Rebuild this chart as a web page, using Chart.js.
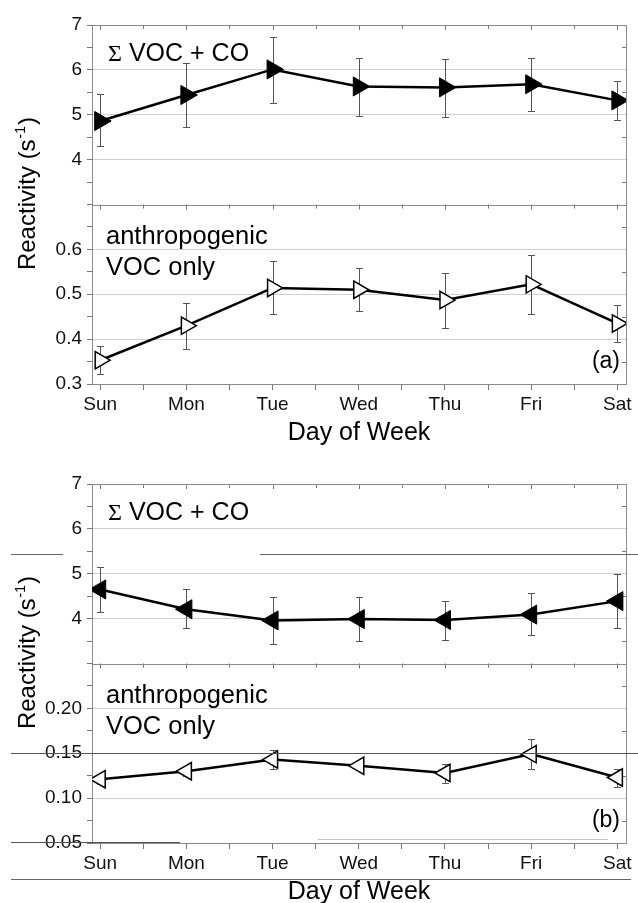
<!DOCTYPE html>
<html><head><meta charset="utf-8">
<script src="https://cdn.jsdelivr.net/npm/chart.js@4.4.0/dist/chart.umd.min.js"></script>
<style>
html,body{margin:0;padding:0;background:#fff;width:638px;height:903px;overflow:hidden;position:relative}
.wrap{position:absolute;left:0;width:638px;height:450px}
canvas{display:block}
</style></head><body>
<div class="wrap" style="top:0"><canvas id="ca" width="638" height="450"></canvas></div>
<div class="wrap" style="top:459px"><canvas id="cb" width="638" height="450"></canvas></div>
<script>
// ---------- data ----------
const DAYS = ['Sun','Mon','Tue','Wed','Thu','Fri','Sat'];
const X_POS = [0,1,2,3,4,5,6];
const X_TICKS = [0,0.5,1,1.5,2,2.5,3,3.5,4,4.5,5,5.5,6];

// panel (a)
const A_TOTAL    = [4.86,5.44,6.01,5.63,5.61,5.68,5.32];
const A_TOTAL_HI = [5.47,6.16,6.74,6.27,6.25,6.27,5.76];
const A_TOTAL_LO = [4.30,4.73,5.26,4.98,4.96,5.09,4.89];
const A_ANTH     = [0.353,0.430,0.514,0.510,0.487,0.522,0.435];
const A_ANTH_HI  = [0.384,0.481,0.573,0.558,0.547,0.588,0.477];
const A_ANTH_LO  = [0.322,0.379,0.455,0.462,0.425,0.455,0.394];

// panel (b)
const B_TOTAL    = [4.65,4.21,3.96,3.99,3.97,4.09,4.39];
const B_TOTAL_HI = [5.15,4.65,4.48,4.48,4.39,4.57,5.00];
const B_TOTAL_LO = [4.15,3.80,3.43,3.50,3.53,3.63,3.80];
const B_ANTH     = [0.121,0.130,0.143,0.136,0.128,0.149,0.123];
const B_ANTH_HI  = [0.126,0.135,0.154,0.141,0.138,0.166,0.133];
const B_ANTH_LO  = [0.116,0.125,0.133,0.131,0.117,0.132,0.112];

// tick values
const UP_TICKS    = [3,3.5,4,4.5,5,5.5,6,6.5,7];
const A_LOW_TICKS = [0.3,0.35,0.4,0.45,0.5,0.55,0.6,0.65,0.7];
const B_LOW_TICKS = [0.05,0.075,0.1,0.125,0.15,0.175,0.2,0.225,0.25];

const FONT = "'Liberation Sans', Arial, sans-serif";

function isMult(v, step){ const r = v/step; return Math.abs(r - Math.round(r)) < 1e-6; }

const deco = {
  id: 'deco',
  beforeDatasetsDraw(chart, args, o) {
    const ctx = chart.ctx, xs = chart.scales.x;
    const {left, right} = chart.chartArea;
    const yU = chart.scales.yU, yL = chart.scales.yL;
    ctx.save();
    ctx.lineWidth = 1;
    ctx.strokeStyle = '#777';
    [yU, yL].forEach(s => {
      X_TICKS.forEach(v => {
        const px = Math.round(xs.getPixelForValue(v)) + 0.5;
        const len = Number.isInteger(v) ? 5 : 4;
        ctx.beginPath(); ctx.moveTo(px, s.top); ctx.lineTo(px, s.top + len); ctx.stroke();
      });
      s.ticks.forEach(t => {
        if (!isMult(t.value, o.steps[s.id])) {
          const py = Math.round(s.getPixelForValue(t.value)) + 0.5;
          ctx.beginPath(); ctx.moveTo(right, py); ctx.lineTo(right - 4, py); ctx.stroke();
        }
      });
    });
    ctx.strokeStyle = '#8a8a8a';
    ctx.strokeRect(Math.round(left) + 0.5, Math.round(yU.top) + 0.5, Math.round(right - left), Math.round(yL.bottom - yU.top));
    ctx.beginPath();
    const by = Math.round(yU.bottom) + 0.5;
    ctx.moveTo(left, by); ctx.lineTo(right, by); ctx.stroke();
    ctx.strokeStyle = '#555';
    o.errors.forEach(e => {
      const ys = chart.scales[e.axis];
      e.hi.forEach((h, i) => {
        const px = Math.round(xs.getPixelForValue(X_POS[i])) + 0.5;
        const y1 = Math.round(ys.getPixelForValue(h)) + 0.5;
        const y2 = Math.round(ys.getPixelForValue(e.lo[i])) + 0.5;
        ctx.beginPath();
        ctx.moveTo(px, y1); ctx.lineTo(px, y2);
        ctx.moveTo(px - 3.5, y1); ctx.lineTo(px + 3.5, y1);
        ctx.moveTo(px - 3.5, y2); ctx.lineTo(px + 3.5, y2);
        ctx.stroke();
      });
    });
    ctx.restore();
  },
  afterDraw(chart, args, o) {
    const ctx = chart.ctx;
    const {left, right, bottom} = chart.chartArea;
    const yU = chart.scales.yU, yL = chart.scales.yL;
    ctx.save();
    ctx.fillStyle = '#000';
    ctx.textBaseline = 'alphabetic';
    ctx.font = "24px 'Liberation Serif', serif";
    ctx.textAlign = 'left';
    const sx = left + 16, sy = yU.top + 36;
    ctx.fillText('Σ', sx, sy);
    const sw = ctx.measureText('Σ').width;
    ctx.font = '25px ' + FONT;
    ctx.fillText(' VOC + CO', sx + sw, sy);
    ctx.font = '25.5px ' + FONT;
    ctx.fillText('anthropogenic', left + 14, yL.top + 39);
    ctx.fillText('VOC only', left + 14, yL.top + 70);
    ctx.font = '23px ' + FONT;
    ctx.textAlign = 'right';
    ctx.fillText(o.label, right - 6, bottom - 16);
    ctx.font = '25px ' + FONT;
    ctx.textAlign = 'center';
    ctx.fillText('Day of Week', (left + right) / 2, bottom + 56);
    // y title (rotated) with superscript
    ctx.translate(35, yU.bottom - 11);
    ctx.rotate(-Math.PI / 2);
    ctx.font = '24px ' + FONT;
    const p1 = 'Reactivity (s', p3 = ')';
    const w1 = ctx.measureText(p1).width, w3 = ctx.measureText(p3).width;
    ctx.font = '14px ' + FONT;
    const w2 = ctx.measureText('-1').width;
    const tot = w1 + w2 + w3 + 2;
    ctx.textAlign = 'left';
    ctx.font = '24px ' + FONT;
    ctx.fillText(p1, -tot / 2, 0);
    ctx.font = '14px ' + FONT;
    ctx.fillText('-1', -tot / 2 + w1 + 1, -10);
    ctx.font = '24px ' + FONT;
    ctx.fillText(p3, -tot / 2 + w1 + w2 + 2, 0);
    ctx.restore();
    if (o.artefacts) {
      ctx.save();
      ctx.lineWidth = 1;
      o.artefacts.forEach(a => {
        ctx.strokeStyle = a[3];
        ctx.beginPath(); ctx.moveTo(a[0], a[2] + 0.5); ctx.lineTo(a[1], a[2] + 0.5); ctx.stroke();
      });
      ctx.restore();
    }
  }
};

function yScale(ticks, step, lo, hi, fmt, labelMin, labelMax) {
  return {
    type: 'linear', position: 'left', stack: 'p', stackWeight: 1,
    min: lo, max: hi,
    afterBuildTicks: s => { s.ticks = ticks.map(v => ({value: v})); },
    afterFit: s => { s.width = 92; },
    ticks: {
      autoSkip: false, padding: 5, color: '#111',
      font: {family: FONT, size: 19},
      callback: v => (isMult(v, step) && v > labelMin - 1e-9 && v < labelMax + 1e-9) ? fmt(v) : ''
    },
    grid: {
      color: c => (c.tick && isMult(c.tick.value, step) && Math.abs(c.tick.value - lo) > 1e-6 && Math.abs(c.tick.value - hi) > 1e-6) ? '#cfcfcf' : 'rgba(0,0,0,0)',
      tickColor: '#777', tickLength: 5, drawTicks: true, lineWidth: 1
    },
    border: {display: false}
  };
}

function makeChart(id, p) {
  const upper = X_POS.map((x, i) => ({x: x, y: p.up[i]}));
  const lower = X_POS.map((x, i) => ({x: x, y: p.low[i]}));
  return new Chart(document.getElementById(id), {
    type: 'line',
    data: {
      datasets: [
        {data: lower, yAxisID: 'yL', borderColor: '#000', borderWidth: 2.5, tension: 0,
         pointStyle: 'triangle', pointRotation: p.rot, pointRadius: p.rLow,
         pointBackgroundColor: '#fff', pointBorderColor: '#000', pointBorderWidth: 1.5},
        {data: upper, yAxisID: 'yU', borderColor: '#000', borderWidth: 2.5, tension: 0,
         pointStyle: 'triangle', pointRotation: p.rot, pointRadius: p.rUp,
         pointBackgroundColor: '#000', pointBorderColor: '#000', pointBorderWidth: 1}
      ]
    },
    options: {
      responsive: false, animation: false, devicePixelRatio: 1,
      layout: {padding: {left: 0, right: 8, top: 25, bottom: 0}},
      plugins: {
        legend: {display: false}, tooltip: {enabled: false},
        deco: {label: p.label, errors: p.errors, steps: {yU: 1, yL: p.lowStep}, artefacts: p.artefacts}
      },
      scales: {
        x: {
          type: 'linear', min: -0.095, max: 6.1,
          afterBuildTicks: s => { s.ticks = X_TICKS.map(v => ({value: v})); },
          afterFit: s => { s.height = 66; },
          ticks: {autoSkip: false, maxRotation: 0, padding: 3, color: '#111',
                  font: {family: FONT, size: 19},
                  callback: v => Number.isInteger(v) ? DAYS[v] : ''},
          grid: {drawOnChartArea: false, tickLength: 6, tickColor: '#777'},
          border: {display: false}
        },
        yL: yScale(p.lowTicks, p.lowStep, p.lowTicks[0], p.lowTicks[p.lowTicks.length - 1], p.lowFmt, p.lowTicks[0], p.lowLabelMax),
        yU: yScale(UP_TICKS, 1, 3, 7, v => String(v), 4, 7)
      }
    },
    plugins: [deco]
  });
}

makeChart('ca', {
  up: A_TOTAL, low: A_ANTH, rot: 90, rUp: 11, rLow: 10, label: '(a)',
  lowTicks: A_LOW_TICKS, lowStep: 0.1, lowFmt: v => v.toFixed(1), lowLabelMax: 0.6,
  errors: [{axis: 'yU', hi: A_TOTAL_HI, lo: A_TOTAL_LO}, {axis: 'yL', hi: A_ANTH_HI, lo: A_ANTH_LO}]
});
makeChart('cb', {
  up: B_TOTAL, low: B_ANTH, rot: -90, rUp: 11, rLow: 10, label: '(b)',
  lowTicks: B_LOW_TICKS, lowStep: 0.05, lowFmt: v => v.toFixed(2), lowLabelMax: 0.2,
  errors: [{axis: 'yU', hi: B_TOTAL_HI, lo: B_TOTAL_LO}, {axis: 'yL', hi: B_ANTH_HI, lo: B_ANTH_LO}],
  artefacts: [[11, 63, 95, '#666'], [260, 638, 95, '#666'], [11, 638, 294, '#555'],
              [11, 180, 383, '#555'], [318, 608, 380, '#c4c4c4'], [11, 631, 420, '#666']]
});
</script>
</body></html>
